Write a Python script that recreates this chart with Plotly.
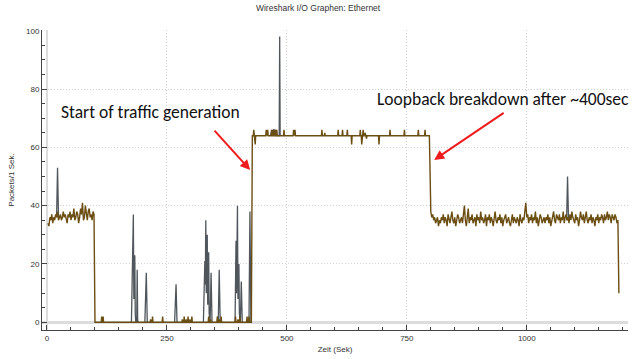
import plotly.graph_objects as go

# ---------------- data ----------------
start_t = list(range(2, 100, 2))
start_v = [34,33,36,35,37,34,36,35,37,36,
           38,35,36,37,35,36,38,36,37,35,
           34,37,36,38,35,37,36,39,35,36,
           38,37,34,36,39,37,41,35,36,40,
           37,35,38,39,36,37,35,38,37]

zero_blip_t = [114,117,216,220,241,282,286,290,294,298,302,337,341,355,359,363,393,398,402,417,421]
zero_blip_v = [2,2,1,2,2,1,2,1,2,1,2,2,1,2,1,2,2,1,2,2,2]

flat_level = 64
flat_blip_t = [431,434,457,460,468,472,476,479,494,514,517,573,579,607,616,626,635,653,656,659,663,666,692,715,745,774,788]
flat_blip_v = [66,61,66,66,66,66,66,66,66,66,66,66,65,66,66,66,61,66,61,66,65,63,61,66,66,66,66]

end_t = list(range(800, 1190, 2))
end_v = [38,36,37,35,36,34,35,36,33,35,34,36,35,37,34,
         36,35,33,37,35,34,36,38,35,34,36,33,35,37,36,
         34,35,36,34,37,40,35,33,36,39,34,36,35,37,34,
         35,36,33,37,35,36,34,38,35,36,34,35,37,33,36,
         35,37,34,36,35,33,36,38,35,34,36,35,37,34,36,
         33,35,36,37,34,35,36,34,33,35,37,34,36,35,34,
         36,35,33,37,35,34,36,35,38,41,36,37,34,36,35,
         37,34,36,35,38,34,36,33,35,37,36,34,35,36,34,
         36,35,37,34,36,33,35,36,38,35,34,37,36,35,37,
         34,36,35,38,34,36,37,35,36,34,37,35,38,36,35,
         34,37,35,36,33,35,38,36,35,37,34,36,38,35,34,
         36,35,37,34,36,35,33,36,35,37,34,36,35,37,36,
         34,37,35,36,38,35,37,36,34,37,36,35,37,36,34]
tail_t = [1190, 1192]
tail_v = [35, 10]

gray_t = [20,22,24,None,
          176,178,179,180,181,182,183,184,185,187,188,189,190,None,
          204,207,209,None,
          266,269,271,None,
          326,329,330,331,332,334,335,337,338,340,342,344,None,
          357,359,361,None,
          392,394,395,397,398,400,401,403,405,407,None,
          421,423,425,None,
          466,469,470,472,474,475,477,478,484,485,486,None,
          1083,1085,1087]
gray_v = [36,53,36,None,
          0,20,29,37,8,20,23,3,0,0,18,1,0,None,
          0,17,0,None,
          0,13,0,None,
          0,21,13,35,10,30,6,24,3,0,17,0,None,
          0,18,0,None,
          0,28,10,40,8,20,3,0,14,0,None,
          0,38,0,None,
          64,66,64,66,66,64,66,64,64,98,64,None,
          35,50,35]

title_text = "Wireshark I/O Graphen: Ethernet"
x_title = "Zeit (Sek)"
y_title = "Packets/1 Sek."
x_ticks = [0, 250, 500, 750, 1000]
y_ticks = [0, 20, 40, 60, 80, 100]
note_left = "Start of traffic generation"
note_right = "Loopback breakdown after ~400sec"

# ---------------- build brown series ----------------
bx, by = list(start_t), list(start_v)
bx.append(100); by.append(0)
for t, v in zip(zero_blip_t, zero_blip_v):
    bx += [t - 1, t, t + 1]; by += [0, v, 0]
bx += [426, 428]; by += [0, flat_level]
for t, v in zip(flat_blip_t, flat_blip_v):
    bx += [t - 1, t, t + 1]; by += [flat_level, v, flat_level]
bx.append(797); by.append(flat_level)
bx += end_t + tail_t; by += end_v + tail_v

fig = go.Figure()
fig.add_trace(go.Scatter(x=gray_t, y=gray_v, mode="lines",
                         line=dict(color="#4f565c", width=1.3), connectgaps=False,
                         hoverinfo="skip"))
fig.add_trace(go.Scatter(x=bx, y=by, mode="lines",
                         line=dict(color="#6b4e12", width=1.4), hoverinfo="skip"))

font_axis = dict(family="Liberation Sans", size=8, color="#333333")
fig.update_layout(
    width=640, height=359,
    margin=dict(l=42, r=12, t=30, b=29),
    paper_bgcolor="white", plot_bgcolor="white",
    showlegend=False,
    title=dict(text=title_text, x=0.497, y=1 - 8 / 359, xanchor="center", yanchor="middle",
               font=dict(family="Liberation Sans", size=8.5, color="#333333")),
    xaxis=dict(range=[-10.4, 1211], tickvals=x_ticks, showgrid=True, gridcolor="#d0d0d0",
               griddash="1px,2px", gridwidth=1, zeroline=True, zerolinecolor="#dcdcdc",
               zerolinewidth=2, showline=True, linecolor="#444444", linewidth=1,
               ticks="inside", ticklen=5, tickcolor="#444444", tickfont=font_axis,
               automargin=False,
               minor=dict(tick0=0, dtick=50, ticks="inside", ticklen=3, tickcolor="#444444",
                          showgrid=False),
               title=dict(text=x_title, font=font_axis, standoff=4)),
    yaxis=dict(range=[-2.64, 100.24], tickvals=y_ticks, showgrid=True, gridcolor="#d0d0d0",
               griddash="1px,2px", gridwidth=1, zeroline=True, zerolinecolor="#dcdcdc",
               zerolinewidth=3, showline=True, linecolor="#444444", linewidth=1,
               ticks="inside", ticklen=5, tickcolor="#444444", tickfont=font_axis,
               automargin=False,
               minor=dict(tick0=0, dtick=5, ticks="inside", ticklen=3, tickcolor="#444444",
                          showgrid=False),
               title=dict(text=y_title, font=font_axis, standoff=10)),
)

note_font = dict(family="Carlito, Calibri, Lato", size=17.5, color="#111111")
fig.add_annotation(x=216, y=72, xref="x", yref="y", text=note_left, showarrow=False,
                   font=note_font)
fig.add_annotation(x=951, y=76.5, xref="x", yref="y", text=note_right, showarrow=False,
                   font=note_font)
fig.add_annotation(x=423.5, y=52.2, xref="x", yref="y", text="", showarrow=True,
                   ax=-37, ay=-41, arrowcolor="#ee1c1c", arrowwidth=2, arrowhead=2,
                   arrowsize=1)
fig.add_annotation(x=807, y=55.7, xref="x", yref="y", text="", showarrow=True,
                   ax=71, ay=-48, arrowcolor="#ee1c1c", arrowwidth=2, arrowhead=2,
                   arrowsize=1)

fig.write_html("out.html",
               config={"displayModeBar": False, "staticPlot": True},
               post_script="document.body.style.margin='0';document.body.style.overflow='hidden';")
